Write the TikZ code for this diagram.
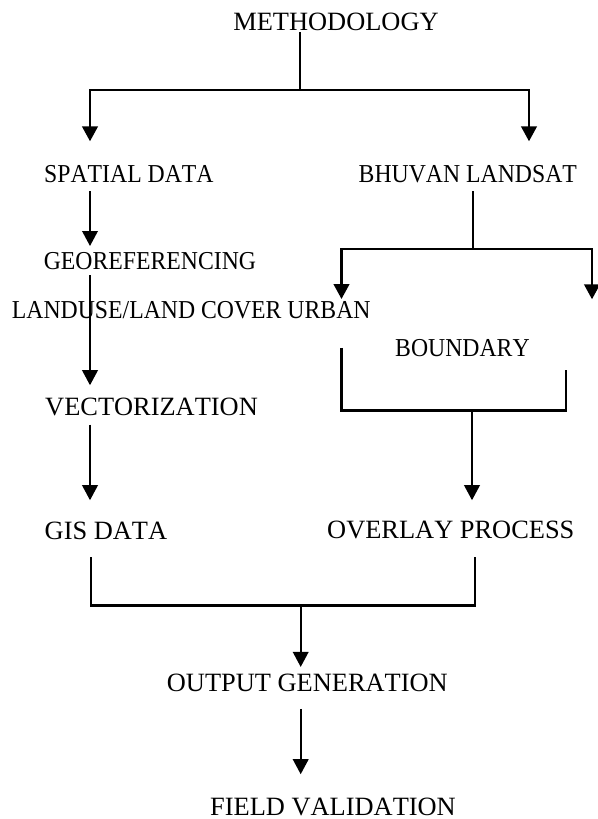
\documentclass[tikz,border=0pt]{standalone}
\usepackage{fontspec}
\setmainfont[Kerning=Off]{Liberation Serif}
\newfontfamily\condserif[Kerning=Off,FakeStretch=0.92]{Liberation Serif}
\usetikzlibrary{arrows.meta}
\begin{document}
\begin{tikzpicture}[x=1pt,y=-1pt,
  lbl/.style={inner sep=0pt, anchor=base west, font=\condserif\fontsize{25.8}{30}\selectfont},
  big/.style={lbl, font=\rmfamily\fontsize{26.4}{31}\selectfont},
  bar/.style={line width=2.7pt},
  arr/.style={line width=2pt, -{Triangle[width=15.5pt,length=15pt]}},
  bararr/.style={bar, -{Triangle[width=15.5pt,length=15pt]}}]
\useasboundingbox (0,0) rectangle (597,819);
\fill[white] (0,0) rectangle (597,819);
% nodes
\node[big, anchor=base] (meth) at (336,30) {METHODOLOGY};
\node[lbl] (spatial) at (44,182) {SPATIAL DATA};
\node[lbl] (bhuvan) at (358.5,182) {BHUVAN LANDSAT};
\node[lbl] (geo) at (43.6,269.3) {GEOREFERENCING};
\node[lbl] (landuse) at (11.7,318.3) {LANDUSE/LAND COVER URBAN};
\node[lbl] (boundary) at (395,356.5) {BOUNDARY};
\node[big] (vector) at (45,415.5) {VECTORIZATION};
\node[big] (gis) at (44.5,539) {GIS DATA};
\node[big] (overlay) at (327,538.5) {OVERLAY PROCESS};
\node[big] (output) at (166.7,691.7) {OUTPUT GENERATION};
\node[big] (field) at (210,815.5) {FIELD VALIDATION};
% reference coordinates
\coordinate (jM) at (300,90);
\coordinate (xL) at (90,0);
\coordinate (xR) at (529,0);
\coordinate (jB) at (473,249);
\coordinate (xU) at (341.5,0);
\coordinate (tR2) at (592,299.3);
\coordinate (bL) at (341.5,410.7);
\coordinate (bR) at (566,410.7);
\coordinate (bRtop) at (566,370);
\coordinate (jO) at (472,410.7);
\coordinate (cL) at (91,605.7);
\coordinate (cR) at (475,605.7);
\coordinate (jG) at (300.7,605.7);
% connectors
\draw[bar, shorten <=2pt] (meth.south -| jM) -- (jM);
\draw[bararr, shorten >=23.4pt] (jM) -| (spatial.north -| xL);
\draw[bararr, shorten >=23.4pt] (jM) -| (bhuvan.north -| xR);
\draw[arr, shorten <=8.7pt, shorten >=6pt] (spatial.south -| xL) -- (geo.north -| xL);
\draw[arr, shorten <=5.7pt, shorten >=12.6pt] (geo.south -| xL) -- (vector.north -| xL);
\draw[arr, shorten <=8.5pt, shorten >=21.1pt] (vector.south -| xL) -- (gis.north -| xL);
\draw[bar, shorten <=8.7pt] (bhuvan.south -| jB) -- (jB);
\draw[bararr, shorten >=2pt] (jB) -| (landuse.north -| xU);
\draw[bararr] (jB) -| (tR2);
\draw[bar, shorten <=29pt] (landuse.south -| xU) -- (bL) -- (bR) -- (bRtop);
\draw[arr, shorten >=20.6pt] (jO) -- (overlay.north -| jO);
\draw[bar, shorten <=17.7pt, shorten >=18.2pt] (gis.south -| cL) -- (cL) -- (cR) -- (overlay.south -| cR);
\draw[arr, shorten >=7.1pt] (jG) -- (output.north -| jG);
\draw[arr, shorten <=16.6pt, shorten >=23.6pt] (output.south -| jG) -- (field.north -| jG);
\end{tikzpicture}
\end{document}
